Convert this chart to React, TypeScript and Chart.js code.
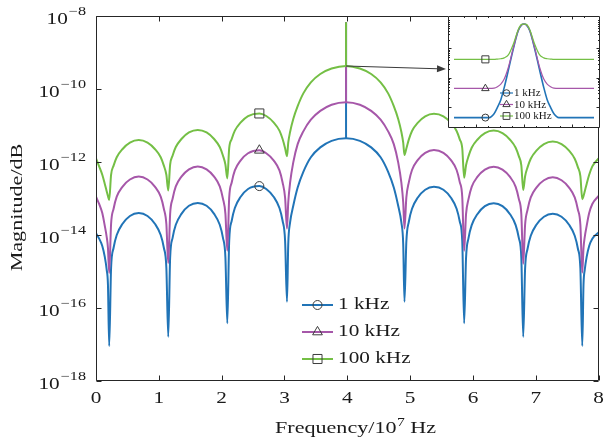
import React, { useEffect, useRef } from "react";
import { Chart, registerables } from "chart.js";

Chart.register(...registerables);

// ---------------- data (log10 of magnitude) ----------------
const freq = [
  0, 0.05, 0.1, 0.14, 0.17, 0.19, 0.21,
  0.24, 0.28, 0.33, 0.42, 0.54, 0.68, 0.82, 0.94, 1.03, 1.08, 1.12, 1.15,
  1.18, 1.22, 1.27, 1.36, 1.48, 1.62, 1.76, 1.88, 1.97, 2.02, 2.06, 2.09,
  2.12, 2.16, 2.21, 2.3, 2.42, 2.6, 2.71, 2.83, 2.92, 2.97, 3.01, 3.04,
  3.06, 3.09, 3.14, 3.21, 3.3, 3.42, 3.57, 3.75, 3.98, 4.2, 4.38, 4.53, 4.65, 4.74, 4.81, 4.86, 4.89, 4.91,
  4.94, 4.98, 5.03, 5.12, 5.24, 5.38, 5.53, 5.65, 5.74, 5.79, 5.83, 5.86,
  5.89, 5.93, 5.98, 6.07, 6.19, 6.33, 6.47, 6.59, 6.68, 6.73, 6.77, 6.8,
  6.83, 6.87, 6.92, 7.01, 7.13, 7.27, 7.41, 7.53, 7.62, 7.67, 7.71, 7.74,
  7.76, 7.78, 7.81, 7.85, 7.9, 8.0,
];

const mag1k = [
  -13.95, -14.1, -14.3, -14.6, -14.95, -15.35, -17.04,
  -14.9, -14.35, -14.0, -13.7, -13.48, -13.4, -13.48, -13.7, -14.0, -14.35, -14.9, -16.79,
  -14.62, -14.07, -13.72, -13.42, -13.2, -13.12, -13.2, -13.42, -13.72, -14.07, -14.62, -16.42,
  -14.16, -13.61, -13.26, -12.96, -12.74, -12.66, -12.74, -12.96, -13.26, -13.61, -14.16, -15.83,
  -14.25, -13.65, -13.2, -12.7, -12.27, -11.87, -11.6, -11.42, -11.35, -11.42, -11.6, -11.87, -12.27, -12.7, -13.2, -13.65, -14.25, -15.83,
  -14.18, -13.63, -13.28, -12.98, -12.76, -12.68, -12.76, -12.98, -13.28, -13.63, -14.18, -16.42,
  -14.63, -14.08, -13.73, -13.43, -13.21, -13.13, -13.21, -13.43, -13.73, -14.08, -14.63, -16.79,
  -14.92, -14.37, -14.02, -13.72, -13.5, -13.42, -13.5, -13.72, -14.02, -14.37, -14.92, -17.04,
  -15.35, -14.95, -14.6, -14.3, -14.1, -13.93,
];

const mag10k = [
  -12.95, -13.15, -13.4, -13.75, -14.05, -14.35, -15.04,
  -13.7, -13.28, -12.95, -12.68, -12.48, -12.4, -12.48, -12.68, -12.95, -13.28, -13.7, -14.77,
  -13.42, -13.0, -12.67, -12.4, -12.2, -12.12, -12.2, -12.4, -12.67, -13.0, -13.42, -14.43,
  -12.98, -12.56, -12.23, -11.96, -11.76, -11.68, -11.76, -11.96, -12.23, -12.56, -12.98, -13.82,
  -13.11, -12.56, -12.01, -11.51, -11.16, -10.84, -10.6, -10.43, -10.36, -10.43, -10.6, -10.84, -11.16, -11.51, -12.01, -12.56, -13.11, -13.82,
  -12.97, -12.55, -12.22, -11.95, -11.75, -11.67, -11.75, -11.95, -12.22, -12.55, -12.97, -14.43,
  -13.43, -13.01, -12.68, -12.41, -12.21, -12.13, -12.21, -12.41, -12.68, -13.01, -13.43, -14.79,
  -13.72, -13.3, -12.97, -12.7, -12.5, -12.42, -12.5, -12.7, -12.97, -13.3, -13.72, -15.03,
  -14.35, -14.05, -13.75, -13.4, -13.15, -12.93,
];

const mag100k = [
  -11.9, -12.12, -12.35, -12.6, -12.8, -12.93, -13.04,
  -12.35, -12.1, -11.87, -11.65, -11.47, -11.4, -11.47, -11.65, -11.87, -12.1, -12.35, -12.78,
  -12.07, -11.82, -11.59, -11.37, -11.19, -11.12, -11.19, -11.37, -11.59, -11.82, -12.07, -12.45,
  -11.62, -11.37, -11.14, -10.92, -10.74, -10.67, -10.74, -10.92, -11.14, -11.37, -11.62, -11.84,
  -11.47, -11.17, -10.82, -10.47, -10.12, -9.82, -9.59, -9.44, -9.37, -9.44, -9.59, -9.82, -10.12, -10.47, -10.82, -11.17, -11.47, -11.81,
  -11.63, -11.38, -11.15, -10.93, -10.75, -10.68, -10.75, -10.93, -11.15, -11.38, -11.63, -12.43,
  -12.09, -11.84, -11.61, -11.39, -11.21, -11.14, -11.21, -11.39, -11.61, -11.84, -12.09, -12.77,
  -12.39, -12.14, -11.91, -11.69, -11.51, -11.44, -11.51, -11.69, -11.91, -12.14, -12.39, -13.02,
  -12.93, -12.8, -12.6, -12.35, -12.12, -11.9,
];

const carrierFreq = 3.98;
const carrierTop = -8.17;
const markerFreq = 2.6;

const xTicks = [0, 1, 2, 3, 4, 5, 6, 7, 8];
const yTickExps = [-18, -16, -14, -12, -10, -8];

const seriesLabels = ["1 kHz", "10 kHz", "100 kHz"];

// inset (zoom on the carrier), x in relative units
const insetX = [
  -1.45, -0.8, -0.72, -0.62, -0.55, -0.48, -0.41, -0.32, -0.22, -0.12, -0.05, 0,
  0.05, 0.12, 0.22, 0.32, 0.41, 0.48, 0.55, 0.62, 0.72, 1.45,
];
const inset1k = [
  -11.35, -11.35, -11.35, -11.22, -11.0, -10.74, -10.33, -9.71, -9.0, -8.4, -8.2, -8.17,
  -8.2, -8.4, -9.0, -9.71, -10.33, -10.74, -11.0, -11.22, -11.35, -11.35,
];
const inset10k = [
  -10.36, -10.36, -10.36, -10.35, -10.3, -10.21, -10.04, -9.62, -8.98, -8.39, -8.2, -8.17,
  -8.2, -8.39, -8.98, -9.62, -10.04, -10.21, -10.3, -10.35, -10.36, -10.36,
];
const inset100k = [
  -9.37, -9.37, -9.37, -9.37, -9.36, -9.35, -9.32, -9.21, -8.85, -8.36, -8.18, -8.17,
  -8.18, -8.36, -8.85, -9.21, -9.32, -9.35, -9.36, -9.37, -9.37, -9.37,
];
const insetMarkerX = -0.8;
const insetYMin = -11.5;
const insetYMax = -8.1;

// ---------------- styles ----------------
const W = 606;
const H = 441;
const BLUE = "#2174b7";
const PURPLE = "#a657a9";
const GREEN = "#74bf45";
const AXIS = "#262626";
const TEXT = "#1a1a1a";
const MARK = "#3c3c3c";
const FONT = '"Liberation Serif", "Times New Roman", serif';

const INSET = { left: 448, top: 16, w: 152, h: 112 };

const pw = (v: number) => Math.pow(10, v);

function txt(
  ctx: CanvasRenderingContext2D,
  s: string,
  x: number,
  y: number,
  size: number,
  align: "left" | "center" | "right" = "left",
  sx = 1.25,
  base: CanvasTextBaseline = "alphabetic"
) {
  ctx.save();
  ctx.font = `${size}px ${FONT}`;
  ctx.textBaseline = base;
  ctx.textAlign = "left";
  const w = ctx.measureText(s).width * sx;
  const x0 = align === "center" ? x - w / 2 : align === "right" ? x - w : x;
  ctx.translate(x0, y);
  ctx.scale(sx, 1);
  ctx.fillStyle = TEXT;
  ctx.fillText(s, 0, 0);
  ctx.restore();
  return w;
}

function measure(ctx: CanvasRenderingContext2D, s: string, size: number, sx = 1.25) {
  ctx.save();
  ctx.font = `${size}px ${FONT}`;
  const w = ctx.measureText(s).width * sx;
  ctx.restore();
  return w;
}

function marker(ctx: CanvasRenderingContext2D, style: string, x: number, y: number, r: number) {
  ctx.save();
  ctx.strokeStyle = MARK;
  ctx.lineWidth = 1;
  ctx.beginPath();
  if (style === "circle") {
    ctx.arc(x, y, r, 0, Math.PI * 2);
  } else if (style === "rect") {
    const s = r * Math.SQRT1_2;
    ctx.rect(x - s, y - s, 2 * s, 2 * s);
  } else {
    const a = (2 * Math.PI) / 3;
    ctx.moveTo(x, y - r);
    ctx.lineTo(x + r * Math.sin(a), y - r * Math.cos(a));
    ctx.lineTo(x + r * Math.sin(2 * a), y - r * Math.cos(2 * a));
    ctx.closePath();
  }
  ctx.stroke();
  ctx.restore();
}

const colors = [BLUE, PURPLE, GREEN];
const styles = ["circle", "triangle", "rect"];
const mainSeries = [mag1k, mag10k, mag100k];
const insetSeries = [inset1k, inset10k, inset100k];

export default function App() {
  const mainRef = useRef<HTMLCanvasElement>(null);
  const insetRef = useRef<HTMLCanvasElement>(null);

  useEffect(() => {
    if (!mainRef.current || !insetRef.current) return;
    const ci = freq.indexOf(carrierFreq);
    const mi = freq.indexOf(markerFreq);

    const datasets: any[] = [];
    const mRadius = [4.5, 5.6, 6.4];
    for (let s = 2; s >= 0; s--) {
      datasets.push({
        data: [{ x: markerFreq, y: pw(mainSeries[s][mi]) }],
        showLine: false,
        pointStyle: styles[s],
        pointRadius: mRadius[s],
        pointBorderColor: MARK,
        pointBackgroundColor: "rgba(0,0,0,0)",
        pointBorderWidth: 1,
      });
    }
    for (let s = 2; s >= 0; s--) {
      const vals = mainSeries[s];
      datasets.push({
        data: [
          { x: carrierFreq, y: pw(vals[ci]) },
          { x: carrierFreq, y: pw(carrierTop) },
        ],
        borderColor: colors[s],
        borderWidth: 2,
        pointRadius: 0,
        tension: 0,
      });
      datasets.push({
        data: freq.map((f, i) => ({ x: f, y: pw(vals[i]) })),
        borderColor: colors[s],
        borderWidth: 2,
        pointRadius: 0,
        cubicInterpolationMode: "monotone",
      });
    }

    const mainPlugin = {
      id: "mainDeco",
      beforeDraw(chart: any) {
        const ctx = chart.ctx;
        ctx.save();
        ctx.fillStyle = "#fff";
        ctx.fillRect(0, 0, W, H);
        ctx.restore();
      },
      afterDatasetsDraw(chart: any) {
        const ctx: CanvasRenderingContext2D = chart.ctx;
        const { left, right, top, bottom } = chart.chartArea;
        const xs = chart.scales.x;
        const ys = chart.scales.y;
        // arrow from carrier peak to inset
        const sx0 = xs.getPixelForValue(carrierFreq);
        const sy0 = ys.getPixelForValue(pw(mag100k[ci]));
        const ex = INSET.left - 2;
        const ey = sy0 + 3;
        ctx.save();
        ctx.strokeStyle = "#3a3a3a";
        ctx.fillStyle = "#3a3a3a";
        ctx.lineWidth = 1;
        const ang = Math.atan2(ey - sy0, ex - sx0);
        const hl = 9;
        ctx.beginPath();
        ctx.moveTo(sx0, sy0);
        ctx.lineTo(ex - hl * Math.cos(ang), ey - hl * Math.sin(ang));
        ctx.stroke();
        ctx.beginPath();
        ctx.moveTo(ex, ey);
        ctx.lineTo(ex - hl * Math.cos(ang) + 3.5 * Math.sin(ang), ey - hl * Math.sin(ang) - 3.5 * Math.cos(ang));
        ctx.lineTo(ex - hl * Math.cos(ang) - 3.5 * Math.sin(ang), ey - hl * Math.sin(ang) + 3.5 * Math.cos(ang));
        ctx.closePath();
        ctx.fill();
        ctx.restore();

        // box + inward ticks
        ctx.save();
        ctx.strokeStyle = AXIS;
        ctx.lineWidth = 1;
        const L = Math.round(left) + 0.5;
        const R = Math.round(right) - 0.5;
        const T = Math.round(top) + 0.5;
        const B = Math.round(bottom) - 0.5;
        ctx.beginPath();
        ctx.rect(L, T, R - L, B - T);
        for (const t of xTicks) {
          const px = Math.round(xs.getPixelForValue(t)) + 0.5;
          ctx.moveTo(px, B);
          ctx.lineTo(px, B - 5);
          ctx.moveTo(px, T);
          ctx.lineTo(px, T + 5);
        }
        for (const e of yTickExps) {
          const py = Math.round(ys.getPixelForValue(pw(e))) + 0.5;
          ctx.moveTo(L, py);
          ctx.lineTo(L + 5, py);
          ctx.moveTo(R, py);
          ctx.lineTo(R - 5, py);
        }
        ctx.stroke();
        ctx.restore();
      },
      afterDraw(chart: any) {
        const ctx: CanvasRenderingContext2D = chart.ctx;
        const { left, right, top, bottom } = chart.chartArea;
        const xs = chart.scales.x;
        const ys = chart.scales.y;
        for (const t of xTicks) {
          txt(ctx, String(t), xs.getPixelForValue(t), bottom + 22, 17, "center");
        }
        for (const e of yTickExps) {
          const py = ys.getPixelForValue(pw(e));
          const ex = "\u2212" + String(Math.abs(e));
          const rx = left - 10;
          const we = txt(ctx, ex, rx, py - 1, 12, "right", 1.35);
          txt(ctx, "10", rx - we - 1, py + 8, 17, "right");
        }
        {
          const s1 = "Frequency/10";
          const s2 = "7";
          const s3 = " Hz";
          const w1 = measure(ctx, s1, 17, 1.3);
          const w2 = measure(ctx, s2, 12, 1.3);
          const w3 = measure(ctx, s3, 17, 1.3);
          const cx = (left + right) / 2 + 8;
          let x = cx - (w1 + w2 + w3) / 2;
          const by = bottom + 52;
          x += txt(ctx, s1, x, by, 17, "left", 1.3);
          x += txt(ctx, s2, x + 0.5, by - 7, 12, "left", 1.3) + 0.5;
          txt(ctx, s3, x, by, 17, "left", 1.3);
        }
        ctx.save();
        ctx.translate(22, (top + bottom) / 2 + 9);
        ctx.rotate(-Math.PI / 2);
        txt(ctx, "Magnitude/dB", 0, 0, 17, "center", 1.3);
        ctx.restore();

        const rows = [305, 332, 359];
        const lr = [4.5, 5.6, 6.4];
        for (let s = 0; s < 3; s++) {
          const y = rows[s];
          ctx.save();
          ctx.strokeStyle = colors[s];
          ctx.lineWidth = 2;
          ctx.beginPath();
          ctx.moveTo(302, y);
          ctx.lineTo(333, y);
          ctx.stroke();
          ctx.restore();
          marker(ctx, styles[s], 317.5, y, lr[s]);
          txt(ctx, seriesLabels[s], 338, y, 17, "left", 1.25, "middle");
        }
      },
    };

    const main = new Chart(mainRef.current, {
      type: "line",
      data: { datasets },
      options: {
        animation: false,
        responsive: false,
        maintainAspectRatio: false,
        devicePixelRatio: 1,
        layout: { padding: { left: 96, right: 6, top: 16, bottom: 60 } },
        scales: {
          x: { type: "linear", min: 0, max: 8, display: false },
          y: { type: "logarithmic", min: 1e-18, max: 1e-8, display: false },
        },
        plugins: { legend: { display: false }, tooltip: { enabled: false } },
        elements: { point: { radius: 0 } },
      },
      plugins: [mainPlugin],
    } as any);

    // ---------- inset ----------
    const imi = insetX.indexOf(insetMarkerX);
    const iDatasets: any[] = [];
    const iRadius = [3.5, 4.3, 5];
    for (let s = 2; s >= 0; s--) {
      iDatasets.push({
        data: [{ x: insetMarkerX, y: pw(insetSeries[s][imi]) }],
        showLine: false,
        pointStyle: styles[s],
        pointRadius: iRadius[s],
        pointBorderColor: MARK,
        pointBackgroundColor: "rgba(0,0,0,0)",
        pointBorderWidth: 1,
      });
    }
    for (let s = 2; s >= 0; s--) {
      const vals = insetSeries[s];
      iDatasets.push({
        data: insetX.map((x, i) => ({ x, y: pw(vals[i]) })),
        borderColor: colors[s],
        borderWidth: s === 0 ? 1.6 : 1.2,
        pointRadius: 0,
        cubicInterpolationMode: "monotone",
      });
    }
    const insetPlugin = {
      id: "insetDeco",
      beforeDraw(chart: any) {
        const ctx = chart.ctx;
        ctx.save();
        ctx.fillStyle = "#fff";
        ctx.fillRect(0, 0, INSET.w, INSET.h);
        ctx.restore();
      },
      afterDraw(chart: any) {
        const ctx: CanvasRenderingContext2D = chart.ctx;
        const xs = chart.scales.x;
        const ys = chart.scales.y;
        const w = INSET.w;
        const h = INSET.h;
        ctx.save();
        ctx.strokeStyle = AXIS;
        ctx.lineWidth = 1;
        ctx.beginPath();
        ctx.rect(0.5, 0.5, w - 1, h - 1);
        for (let k = -5; k <= 5; k++) {
          const v = k * 0.25;
          const px = Math.round(xs.getPixelForValue(v)) + 0.5;
          const len = k % 4 === 0 ? 3 : 1.5;
          ctx.moveTo(px, 0.5);
          ctx.lineTo(px, 0.5 + len);
          ctx.moveTo(px, h - 0.5);
          ctx.lineTo(px, h - 0.5 - len);
        }
        for (let e = -11; e <= -9; e++) {
          const py = Math.round(ys.getPixelForValue(pw(e))) + 0.5;
          ctx.moveTo(0.5, py);
          ctx.lineTo(3.5, py);
          ctx.moveTo(w - 0.5, py);
          ctx.lineTo(w - 3.5, py);
          for (let m = 2; m <= 9; m += 1) {
            const pm = Math.round(ys.getPixelForValue(m * pw(e))) + 0.5;
            if (pm < 1 || pm > h - 1) continue;
            ctx.moveTo(0.5, pm);
            ctx.lineTo(2, pm);
            ctx.moveTo(w - 0.5, pm);
            ctx.lineTo(w - 2, pm);
          }
        }
        ctx.stroke();
        ctx.restore();

        const rows = [77, 88.5, 100];
        const lr = [3.3, 4.2, 4.8];
        for (let s = 0; s < 3; s++) {
          const y = rows[s];
          ctx.save();
          ctx.strokeStyle = colors[s];
          ctx.lineWidth = 1.2;
          ctx.beginPath();
          ctx.moveTo(52, y);
          ctx.lineTo(65, y);
          ctx.stroke();
          ctx.restore();
          marker(ctx, styles[s], 58.5, y, lr[s]);
          txt(ctx, seriesLabels[s], 66, y + 0.5, 11, "left", 1.0, "middle");
        }
      },
    };
    const inset = new Chart(insetRef.current, {
      type: "line",
      data: { datasets: iDatasets },
      options: {
        animation: false,
        responsive: false,
        maintainAspectRatio: false,
        devicePixelRatio: 1,
        layout: { padding: 0 },
        scales: {
          x: { type: "linear", min: -1.45, max: 1.45, display: false },
          y: { type: "logarithmic", min: pw(insetYMin), max: pw(insetYMax), display: false },
        },
        plugins: { legend: { display: false }, tooltip: { enabled: false } },
        elements: { point: { radius: 0 } },
      },
      plugins: [insetPlugin],
    } as any);

    return () => {
      main.destroy();
      inset.destroy();
    };
  }, []);

  return (
    <div style={{ position: "fixed", left: 0, top: 0, width: W, height: H, background: "#fff" }}>
      <canvas ref={mainRef} width={W} height={H} style={{ position: "absolute", left: 0, top: 0, width: W, height: H }} />
      <canvas
        ref={insetRef}
        width={INSET.w}
        height={INSET.h}
        style={{ position: "absolute", left: INSET.left, top: INSET.top, width: INSET.w, height: INSET.h }}
      />
    </div>
  );
}
